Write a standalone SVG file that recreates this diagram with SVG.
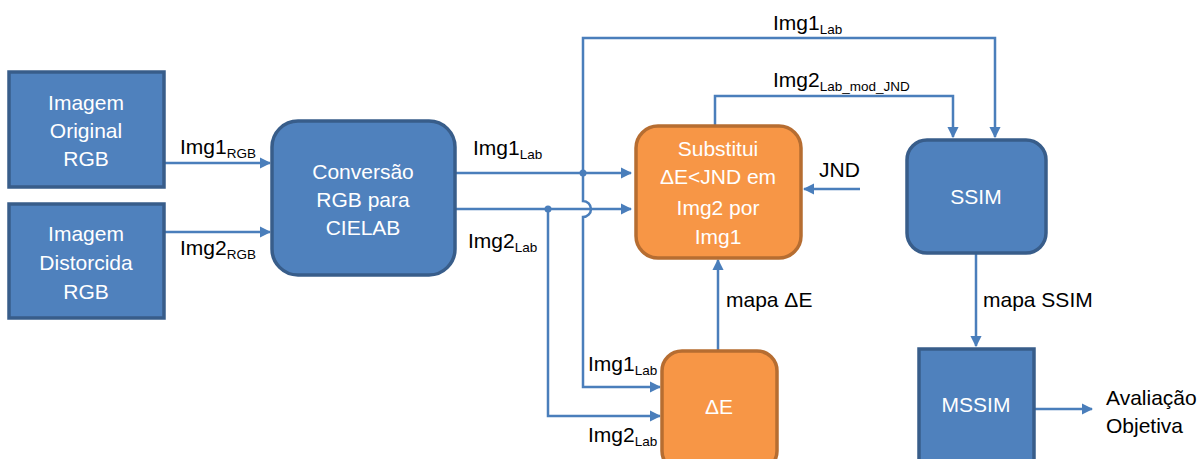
<svg xmlns="http://www.w3.org/2000/svg" width="1199" height="459" viewBox="0 0 1199 459">
<style>
.bb{fill:#4F81BD;stroke:#385D8A;stroke-width:3.5}
.ob{fill:#F79646;stroke:#B66D31;stroke-width:3.5}
.wt{fill:#fff;font-family:"Liberation Sans",Arial,sans-serif;font-size:21px;text-anchor:middle}
.lb{fill:#000;font-family:"Liberation Sans",Arial,sans-serif;font-size:21px}
.sb{font-size:13.5px}
.ln{fill:none;stroke:#4A7EBB;stroke-width:2.5}
.ar{marker-end:url(#ah)}
.dot{fill:#4A7EBB}
</style>
<defs>
<marker id="ah" viewBox="0 0 10 10" refX="9" refY="5" markerWidth="4.6" markerHeight="4.6" orient="auto" markerUnits="strokeWidth">
<path d="M0,0 L10,5 L0,10 z" fill="#4A7EBB"/>
</marker>
</defs>
<rect width="1199" height="459" fill="#fff"/>

<g id="connectors">
<path class="ln ar" d="M165,163 H270"/>
<path class="ln ar" d="M165,232 H270"/>
<path class="ln ar" d="M455,173 H631"/>
<path class="ln ar" d="M455,209 H631"/>
<path class="ln ar" d="M583,173 V38 H995 V137"/>
<path class="ln ar" d="M583,173 V201 A8,8 0 0 1 583,217 V387 H660"/>
<path class="ln ar" d="M548,209 V416 H660"/>
<path class="ln ar" d="M715,125 V96 H953 V137"/>
<path class="ln ar" d="M860,189 H804"/>
<path class="ln ar" d="M718,351 V260"/>
<path class="ln ar" d="M976,253 V346"/>
<path class="ln ar" d="M1034,409 H1092"/>
<circle class="dot" cx="583" cy="173" r="3.5"/>
<circle class="dot" cx="548" cy="209" r="3.5"/>
</g>

<g id="img-original">
<rect class="bb" x="9" y="72" width="155" height="115"/>
<text class="wt" x="86" y="110">Imagem</text>
<text class="wt" x="86" y="138">Original</text>
<text class="wt" x="86" y="166">RGB</text>
</g>

<g id="img-distorcida">
<rect class="bb" x="9" y="204" width="155" height="114"/>
<text class="wt" x="86" y="241">Imagem</text>
<text class="wt" x="86" y="270">Distorcida</text>
<text class="wt" x="86" y="299">RGB</text>
</g>

<g id="conversao">
<rect class="bb" x="272" y="121" width="183" height="154" rx="26"/>
<text class="wt" x="363" y="179">Conversão</text>
<text class="wt" x="363" y="207">RGB para</text>
<text class="wt" x="363" y="235">CIELAB</text>
</g>

<g id="substitui">
<rect class="ob" x="636" y="126" width="165" height="132" rx="22"/>
<text class="wt" x="718" y="156">Substitui</text>
<text class="wt" x="718" y="184">ΔE&lt;JND em</text>
<text class="wt" x="718" y="215">Img2 por</text>
<text class="wt" x="718" y="244">Img1</text>
</g>

<g id="deltaE">
<rect class="ob" x="662" y="351" width="115" height="120" rx="20"/>
<text class="wt" x="719" y="414">ΔE</text>
</g>

<g id="ssim">
<rect class="bb" x="907" y="140" width="139" height="113" rx="20"/>
<text class="wt" x="976" y="204">SSIM</text>
</g>

<g id="mssim">
<rect class="bb" x="919" y="349" width="115" height="120"/>
<text class="wt" x="976" y="412">MSSIM</text>
</g>

<g id="labels">
<text class="lb" x="180" y="154">Img1<tspan class="sb" dy="4">RGB</tspan></text>
<text class="lb" x="180" y="255">Img2<tspan class="sb" dy="4">RGB</tspan></text>
<text class="lb" x="473" y="155">Img1<tspan class="sb" dy="4">Lab</tspan></text>
<text class="lb" x="468" y="248">Img2<tspan class="sb" dy="4">Lab</tspan></text>
<text class="lb" x="773" y="30">Img1<tspan class="sb" dy="4">Lab</tspan></text>
<text class="lb" x="773" y="87">Img2<tspan class="sb" dy="4">Lab_mod_JND</tspan></text>
<text class="lb" x="819" y="177">JND</text>
<text class="lb" x="726" y="307">mapa ΔE</text>
<text class="lb" x="588" y="371">Img1<tspan class="sb" dy="4">Lab</tspan></text>
<text class="lb" x="588" y="442">Img2<tspan class="sb" dy="4">Lab</tspan></text>
<text class="lb" x="983" y="307">mapa SSIM</text>
<text class="lb" x="1106" y="405">Avaliação</text>
<text class="lb" x="1106" y="433">Objetiva</text>
</g>
</svg>
